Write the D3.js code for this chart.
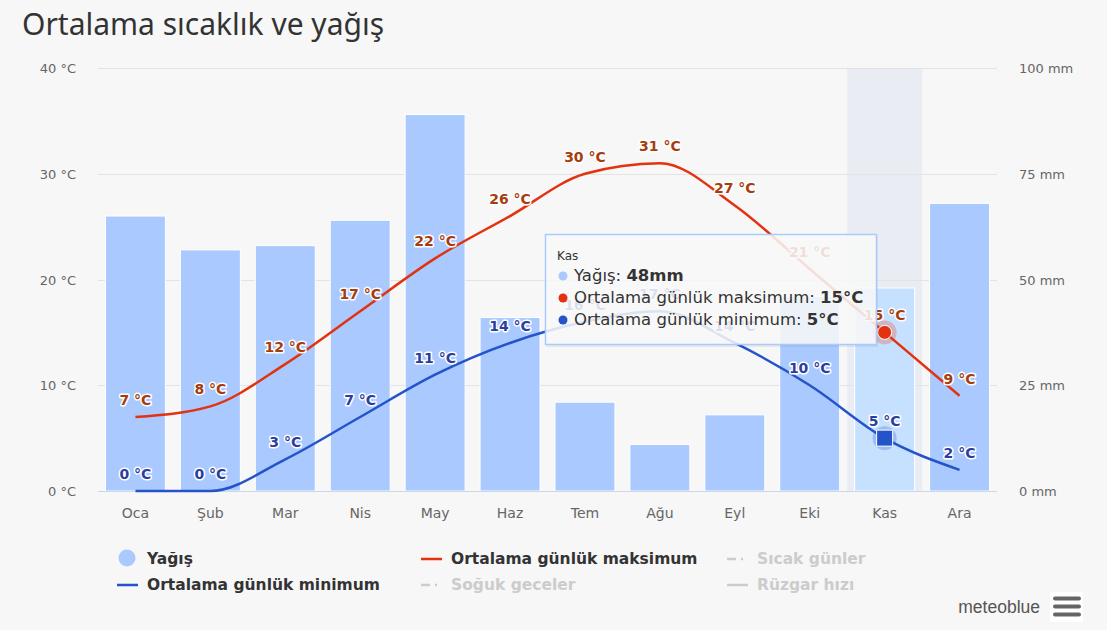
<!DOCTYPE html>
<html>
<head>
<meta charset="utf-8">
<script src="https://cdn.jsdelivr.net/npm/d3@7"></script>
<style>
  body { margin: 0; background: #f7f7f7; }
  svg { display: block; }
</style>
</head>
<body>
<div id="chart"></div>
<script>
const months = ["Oca", "Şub", "Mar", "Nis", "May", "Haz", "Tem", "Ağu", "Eyl", "Eki", "Kas", "Ara"];
const precip = [65, 57, 58, 64, 89, 41, 21, 11, 18, 46, 48, 68];
const tMax = [7, 8, 12, 17, 22, 26, 30, 31, 27, 21, 15, 9];
const tMin = [0, 0, 3, 7, 11, 14, 16, 17, 14, 10, 5, 2];
const tempTicks = [0, 10, 20, 30, 40];
const precipTicks = [0, 25, 50, 75, 100];
const hoverIdx = 10;

const width = 1107;
const height = 630;
const margin = {top: 68, right: 110, bottom: 139, left: 98};

const barColor = "#a9c9ff";
const barHover = "#c6e1ff";
const redLine = "#e2320f";
const blueLine = "#2553c9";
const maxLabel = "#a53d0e";
const minLabel = "#2b3ea0";
const font = "'DejaVu Sans', Verdana, sans-serif";

const svg = d3.select("#chart")
    .append("svg")
    .attr("width", width)
    .attr("height", height)
    .style("background", "#f7f7f7");

svg.append("text")
    .attr("x", 22)
    .attr("y", 35)
    .attr("font-family", "'Noto Sans', 'Open Sans', sans-serif")
    .attr("font-size", "30px")
    .attr("fill", "#333")
    .text("Ortalama sıcaklık ve yağış");

const x = d3.scaleBand()
    .domain(months)
    .range([margin.left, width - margin.right]);

const yT = d3.scaleLinear()
    .domain([0, 40])
    .range([height - margin.bottom, margin.top]);

const yP = d3.scaleLinear()
    .domain([0, 100])
    .range([height - margin.bottom, margin.top]);

const cx = m => x(m) + x.bandwidth() / 2;

// hover band
svg.append("rect")
    .attr("x", x(months[hoverIdx]))
    .attr("y", margin.top)
    .attr("width", x.bandwidth())
    .attr("height", yT(0) - margin.top)
    .attr("fill", "#e9edf3");

// grid
svg.append("g")
    .selectAll("line")
    .data(tempTicks)
    .join("line")
    .attr("x1", margin.left)
    .attr("x2", width - margin.right)
    .attr("y1", d => Math.round(yT(d)) + 0.5)
    .attr("y2", d => Math.round(yT(d)) + 0.5)
    .attr("stroke", "#e3e3e3");

// left axis labels
svg.append("g")
    .selectAll("text")
    .data(tempTicks)
    .join("text")
    .attr("x", 76)
    .attr("y", d => yT(d) + 5)
    .attr("text-anchor", "end")
    .attr("font-family", font)
    .attr("font-size", "13px")
    .attr("fill", "#666")
    .text(d => d + " °C");

// right axis labels
svg.append("g")
    .selectAll("text")
    .data(precipTicks)
    .join("text")
    .attr("x", 1019)
    .attr("y", d => yP(d) + 5)
    .attr("font-family", font)
    .attr("font-size", "13px")
    .attr("fill", "#666")
    .text(d => d + " mm");

// bars
svg.append("g")
    .selectAll("rect")
    .data(precip)
    .join("rect")
    .attr("x", (d, i) => x(months[i]) + x.bandwidth() * 0.1)
    .attr("width", x.bandwidth() * 0.8)
    .attr("y", d => yP(d))
    .attr("height", d => yP(0) - yP(d))
    .attr("fill", (d, i) => i === hoverIdx ? barHover : barColor)
    .attr("stroke", "#fff")
    .attr("stroke-width", 1);

// x axis line
svg.append("line")
    .attr("x1", margin.left)
    .attr("x2", width - margin.right)
    .attr("y1", yT(0) + 0.5)
    .attr("y2", yT(0) + 0.5)
    .attr("stroke", "#ccd6eb");

svg.append("g")
    .selectAll("text")
    .data(months)
    .join("text")
    .attr("x", d => cx(d))
    .attr("y", 518)
    .attr("text-anchor", "middle")
    .attr("font-family", font)
    .attr("font-size", "14px")
    .attr("fill", "#666")
    .text(d => d);

// lines
const line = d3.line()
    .x((d, i) => cx(months[i]))
    .y(d => yT(d))
    .curve(d3.curveMonotoneX);

svg.append("path")
    .attr("d", line(tMin))
    .attr("fill", "none")
    .attr("stroke", blueLine)
    .attr("stroke-width", 2.5);

svg.append("path")
    .attr("d", line(tMax))
    .attr("fill", "none")
    .attr("stroke", redLine)
    .attr("stroke-width", 2.5);

// data labels
function labels(data, color) {
    svg.append("g")
        .selectAll("text")
        .data(data)
        .join("text")
        .attr("x", (d, i) => cx(months[i]))
        .attr("y", d => yT(d) - 12)
        .attr("text-anchor", "middle")
        .attr("font-family", font)
        .attr("font-size", "14px")
        .attr("font-weight", "bold")
        .attr("fill", color)
        .attr("stroke", "#fff")
        .attr("stroke-width", 3)
        .attr("stroke-linejoin", "round")
        .attr("paint-order", "stroke")
        .text(d => d + " °C");
}
labels(tMin, minLabel);
labels(tMax, maxLabel);

// hover markers
const hx = cx(months[hoverIdx]);
svg.append("circle")
    .attr("cx", hx).attr("cy", yT(tMax[hoverIdx]))
    .attr("r", 12).attr("fill", redLine).attr("opacity", 0.25);
svg.append("circle")
    .attr("cx", hx).attr("cy", yT(tMax[hoverIdx]))
    .attr("r", 7).attr("fill", redLine).attr("stroke", "#fff").attr("stroke-width", 1);
svg.append("circle")
    .attr("cx", hx).attr("cy", yT(tMin[hoverIdx]))
    .attr("r", 12).attr("fill", blueLine).attr("opacity", 0.25);
svg.append("rect")
    .attr("x", hx - 8).attr("y", yT(tMin[hoverIdx]) - 8)
    .attr("width", 16).attr("height", 16)
    .attr("fill", blueLine).attr("stroke", "#fff").attr("stroke-width", 1);

// tooltip
const tip = svg.append("g").attr("transform", "translate(545,234)");
tip.append("rect")
    .attr("x", 1).attr("y", 2)
    .attr("width", 332).attr("height", 111)
    .attr("fill", "rgba(0,0,0,0.06)");
tip.append("rect")
    .attr("x", 0.5).attr("y", 0.5)
    .attr("width", 331).attr("height", 110)
    .attr("fill", "rgba(250,250,250,0.86)")
    .attr("stroke", "#a9c9ff")
    .attr("stroke-width", 1.5);
tip.append("text")
    .attr("x", 12).attr("y", 26)
    .attr("font-family", font).attr("font-size", "12px").attr("fill", "#333")
    .text(months[hoverIdx]);

const tipRows = [
    {color: barColor, name: "Yağış", value: precip[hoverIdx] + "mm"},
    {color: redLine, name: "Ortalama günlük maksimum", value: tMax[hoverIdx] + "°C"},
    {color: blueLine, name: "Ortalama günlük minimum", value: tMin[hoverIdx] + "°C"}
];
tipRows.forEach((r, i) => {
    const yy = 47 + i * 22;
    tip.append("circle").attr("cx", 18).attr("cy", yy - 5).attr("r", 4.5).attr("fill", r.color);
    const t = tip.append("text")
        .attr("x", 29).attr("y", yy)
        .attr("font-family", font).attr("font-size", "16.5px").attr("fill", "#333");
    t.append("tspan").text(r.name + ": ");
    t.append("tspan").attr("font-weight", "bold").text(r.value);
});

// legend
const legendItems = [
    {type: "circle", color: barColor, text: "Yağış", x: 117, y: 559, on: true},
    {type: "line", color: redLine, text: "Ortalama günlük maksimum", x: 421, y: 559, on: true},
    {type: "dash", color: "#ccc", text: "Sıcak günler", x: 727, y: 559, on: false},
    {type: "line", color: blueLine, text: "Ortalama günlük minimum", x: 117, y: 585, on: true},
    {type: "dash", color: "#ccc", text: "Soğuk geceler", x: 421, y: 585, on: false},
    {type: "line", color: "#ccc", text: "Rüzgar hızı", x: 727, y: 585, on: false}
];
const lg = svg.append("g");
legendItems.forEach(it => {
    if (it.type === "circle") {
        lg.append("circle").attr("cx", it.x + 10).attr("cy", it.y - 1).attr("r", 8.5).attr("fill", it.color);
    } else if (it.type === "line") {
        lg.append("line").attr("x1", it.x).attr("x2", it.x + 21)
            .attr("y1", it.y).attr("y2", it.y)
            .attr("stroke", it.color).attr("stroke-width", 2.5);
    } else {
        lg.append("line").attr("x1", it.x).attr("x2", it.x + 21)
            .attr("y1", it.y).attr("y2", it.y)
            .attr("stroke", it.color).attr("stroke-width", 2.5)
            .attr("stroke-dasharray", "9,5,2,5");
    }
    lg.append("text")
        .attr("x", it.x + 30)
        .attr("y", it.y + 5)
        .attr("font-family", font)
        .attr("font-size", "15.5px")
        .attr("font-weight", "bold")
        .attr("fill", it.on ? "#333" : "#ccc")
        .text(it.text);
});

// credits and menu
svg.append("text")
    .attr("x", 1040).attr("y", 613)
    .attr("text-anchor", "end")
    .attr("font-family", "'Liberation Sans', Arial, sans-serif")
    .attr("font-size", "17.5px")
    .attr("fill", "#555")
    .text("meteoblue");
svg.append("rect")
    .attr("x", 1050).attr("y", 592).attr("width", 33).attr("height", 30)
    .attr("fill", "#fff");
[598.5, 606.5, 614.5].forEach(yy => {
    svg.append("line")
        .attr("x1", 1055).attr("x2", 1079)
        .attr("y1", yy).attr("y2", yy)
        .attr("stroke", "#666").attr("stroke-width", 4)
        .attr("stroke-linecap", "round");
});
</script>
</body>
</html>
